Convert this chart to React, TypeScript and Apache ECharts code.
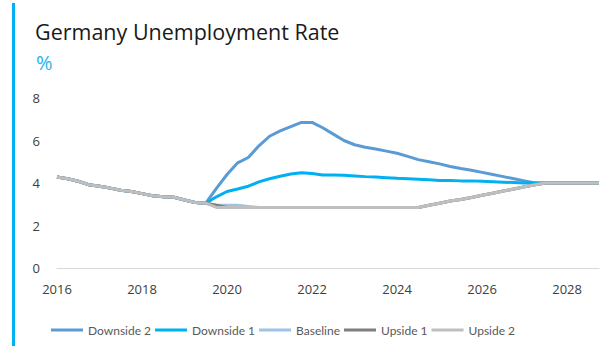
import React, { useEffect, useRef } from "react";
import * as echarts from "echarts";

const years = [2016, 2017, 2018, 2019, 2020, 2021, 2022, 2023, 2024, 2025, 2026, 2027, 2028];
const quarters = years.flatMap((y) => [1, 2, 3, 4].map((q) => `${y}Q${q}`));

// 2016Q1 - 2019Q3 (shared history)
const history = [4.28, 4.2, 4.08, 3.92, 3.85, 3.76, 3.66, 3.6, 3.5, 3.4, 3.35, 3.33, 3.2, 3.08, 3.05];

// 2019Q4 - 2028Q4
const downside2 = [
  3.75, 4.4, 4.95, 5.2, 5.75, 6.2, 6.45, 6.65, 6.85, 6.85, 6.6, 6.3, 6.0, 5.8, 5.68, 5.6, 5.5,
  5.4, 5.25, 5.1, 5.0, 4.9, 4.78, 4.68, 4.6, 4.5, 4.4, 4.3, 4.2, 4.1, 4.0, 4.0, 4.0, 4.0, 4.0, 4.0, 4.0,
];
const downside1 = [
  3.35, 3.6, 3.72, 3.85, 4.05, 4.2, 4.32, 4.42, 4.48, 4.45, 4.38, 4.38, 4.36, 4.33, 4.3, 4.28, 4.25,
  4.22, 4.2, 4.18, 4.15, 4.12, 4.12, 4.1, 4.1, 4.08, 4.06, 4.04, 4.02, 4.0, 4.0, 4.0, 4.0, 4.0, 4.0, 4.0, 4.0,
];
const baseline = [
  2.95, 2.95, 2.95, 2.9, 2.85, 2.85, 2.85, 2.85, 2.85, 2.85, 2.85, 2.85, 2.85, 2.85, 2.85, 2.85, 2.85,
  2.85, 2.85, 2.85, 2.95, 3.05, 3.15, 3.22, 3.32, 3.42, 3.52, 3.62, 3.72, 3.82, 3.92, 4.0, 4.0, 4.0, 4.0, 4.0, 4.0,
];
const upside1 = [
  2.95, 2.85, 2.85, 2.85, 2.85, 2.85, 2.85, 2.85, 2.85, 2.85, 2.85, 2.85, 2.85, 2.85, 2.85, 2.85, 2.85,
  2.85, 2.85, 2.85, 2.95, 3.05, 3.15, 3.22, 3.32, 3.42, 3.52, 3.62, 3.72, 3.82, 3.92, 4.0, 4.0, 4.0, 4.0, 4.0, 4.0,
];
const upside2 = [
  2.85, 2.85, 2.85, 2.85, 2.85, 2.85, 2.85, 2.85, 2.85, 2.85, 2.85, 2.85, 2.85, 2.85, 2.85, 2.85, 2.85,
  2.85, 2.85, 2.85, 2.95, 3.05, 3.15, 3.22, 3.32, 3.42, 3.52, 3.62, 3.72, 3.82, 3.92, 4.0, 4.0, 4.0, 4.0, 4.0, 4.0,
];

const seriesNames = ["Downside 2", "Downside 1", "Baseline", "Upside 1", "Upside 2"];
const seriesData = [downside2, downside1, baseline, upside1, upside2];
const seriesColors = ["#5b9bd5", "#00b0f0", "#9dc3e6", "#7f7f7f", "#bfbfbf"];
const yTicks = [0, 2, 4, 6, 8];

const FONT = "'Open Sans', 'Liberation Sans', sans-serif";
const SMALL_FONT = "Lato, 'Open Sans', sans-serif";

export default function App() {
  const ref = useRef<HTMLDivElement>(null);
  useEffect(() => {
    document.body.style.margin = "0";
    const chart = echarts.init(ref.current!, null, { renderer: "svg" });
    chart.setOption({
      animation: false,
      backgroundColor: "#ffffff",
      graphic: [
        { type: "rect", shape: { x: 12, y: 3, width: 3, height: 343 }, style: { fill: "#00b0f0" } },
        {
          type: "text",
          x: 35,
          y: 31,
          style: { text: "Germany Unemployment Rate", font: `21.5px ${FONT}`, fill: "#1a1a1a", verticalAlign: "middle" },
        },
        {
          type: "text",
          x: 36,
          y: 62,
          style: { text: "%", font: `20px ${FONT}`, fill: "#1fb4ec", verticalAlign: "middle" },
        },
      ],
      legend: {
        data: seriesNames,
        top: 319,
        left: 46,
        icon: "rect",
        itemWidth: 32,
        itemHeight: 3,
        itemGap: 4,
        textStyle: { color: "#595959", fontSize: 12, fontFamily: SMALL_FONT },
      },
      grid: { left: 57, right: 7, top: 98, bottom: 90, containLabel: false },
      xAxis: {
        type: "category",
        data: quarters,
        boundaryGap: false,
        axisLine: { lineStyle: { color: "#d9d9d9", width: 1 } },
        axisTick: { show: false },
        axisLabel: {
          interval: 7,
          color: "#404040",
          fontSize: 13,
          fontFamily: FONT,
          margin: 14,
          formatter: (v: string) => v.slice(0, 4),
        },
        splitLine: { show: false },
      },
      yAxis: {
        type: "value",
        min: yTicks[0],
        max: yTicks[yTicks.length - 1],
        interval: 2,
        axisLine: { show: false },
        axisTick: { show: false },
        splitLine: { show: false },
        axisLabel: { color: "#404040", fontSize: 13, fontFamily: FONT, margin: 17 },
      },
      series: seriesNames.map((name, i) => ({
        name,
        type: "line",
        data: [...history, ...seriesData[i]],
        symbol: "none",
        lineStyle: { color: seriesColors[i], width: 3 },
        itemStyle: { color: seriesColors[i] },
      })),
    });
    return () => chart.dispose();
  }, []);
  return <div ref={ref} style={{ width: 606, height: 358 }} />;
}
